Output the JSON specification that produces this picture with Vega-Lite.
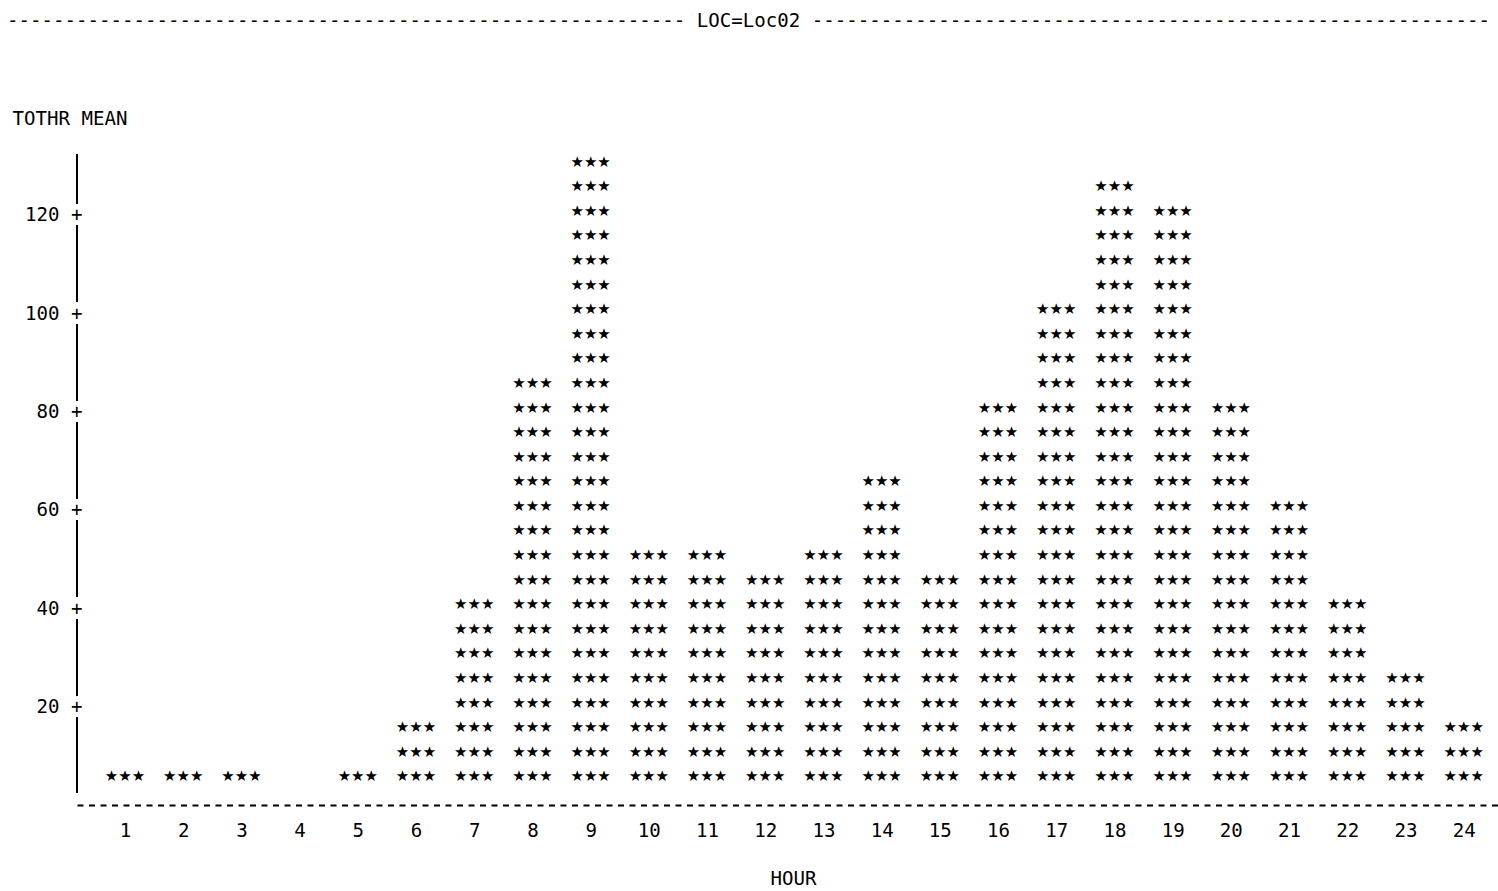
{
  "$schema": "https://vega.github.io/schema/vega-lite/v6.json",
  "width": 1421,
  "height": 664,
  "autosize": {"type": "none"},
  "padding": {"left": 77, "top": 141, "right": 0, "bottom": 86},
  "background": "white",
  "config": {"view": {"stroke": null}, "font": "DejaVu Sans Mono"},
  "title": {
    "text": "----------------------------------------------------------- LOC=Loc02 -----------------------------------------------------------",
    "font": "DejaVu Sans Mono",
    "fontSize": 19.1,
    "fontWeight": "normal",
    "color": "black",
    "anchor": "middle",
    "frame": "group",
    "dx": -39,
    "offset": 78
  },
  "data": {"values": [
    {"HOUR":1,"TOTHR":5},
    {"HOUR":2,"TOTHR":5},
    {"HOUR":3,"TOTHR":5},
    {"HOUR":5,"TOTHR":5},
    {"HOUR":6,"TOTHR":5},{"HOUR":6,"TOTHR":10},{"HOUR":6,"TOTHR":15},
    {"HOUR":7,"TOTHR":5},{"HOUR":7,"TOTHR":10},{"HOUR":7,"TOTHR":15},{"HOUR":7,"TOTHR":20},{"HOUR":7,"TOTHR":25},{"HOUR":7,"TOTHR":30},{"HOUR":7,"TOTHR":35},{"HOUR":7,"TOTHR":40},
    {"HOUR":8,"TOTHR":5},{"HOUR":8,"TOTHR":10},{"HOUR":8,"TOTHR":15},{"HOUR":8,"TOTHR":20},{"HOUR":8,"TOTHR":25},{"HOUR":8,"TOTHR":30},{"HOUR":8,"TOTHR":35},{"HOUR":8,"TOTHR":40},{"HOUR":8,"TOTHR":45},{"HOUR":8,"TOTHR":50},{"HOUR":8,"TOTHR":55},{"HOUR":8,"TOTHR":60},{"HOUR":8,"TOTHR":65},{"HOUR":8,"TOTHR":70},{"HOUR":8,"TOTHR":75},{"HOUR":8,"TOTHR":80},{"HOUR":8,"TOTHR":85},
    {"HOUR":9,"TOTHR":5},{"HOUR":9,"TOTHR":10},{"HOUR":9,"TOTHR":15},{"HOUR":9,"TOTHR":20},{"HOUR":9,"TOTHR":25},{"HOUR":9,"TOTHR":30},{"HOUR":9,"TOTHR":35},{"HOUR":9,"TOTHR":40},{"HOUR":9,"TOTHR":45},{"HOUR":9,"TOTHR":50},{"HOUR":9,"TOTHR":55},{"HOUR":9,"TOTHR":60},{"HOUR":9,"TOTHR":65},{"HOUR":9,"TOTHR":70},{"HOUR":9,"TOTHR":75},{"HOUR":9,"TOTHR":80},{"HOUR":9,"TOTHR":85},{"HOUR":9,"TOTHR":90},{"HOUR":9,"TOTHR":95},{"HOUR":9,"TOTHR":100},{"HOUR":9,"TOTHR":105},{"HOUR":9,"TOTHR":110},{"HOUR":9,"TOTHR":115},{"HOUR":9,"TOTHR":120},{"HOUR":9,"TOTHR":125},{"HOUR":9,"TOTHR":130},
    {"HOUR":10,"TOTHR":5},{"HOUR":10,"TOTHR":10},{"HOUR":10,"TOTHR":15},{"HOUR":10,"TOTHR":20},{"HOUR":10,"TOTHR":25},{"HOUR":10,"TOTHR":30},{"HOUR":10,"TOTHR":35},{"HOUR":10,"TOTHR":40},{"HOUR":10,"TOTHR":45},{"HOUR":10,"TOTHR":50},
    {"HOUR":11,"TOTHR":5},{"HOUR":11,"TOTHR":10},{"HOUR":11,"TOTHR":15},{"HOUR":11,"TOTHR":20},{"HOUR":11,"TOTHR":25},{"HOUR":11,"TOTHR":30},{"HOUR":11,"TOTHR":35},{"HOUR":11,"TOTHR":40},{"HOUR":11,"TOTHR":45},{"HOUR":11,"TOTHR":50},
    {"HOUR":12,"TOTHR":5},{"HOUR":12,"TOTHR":10},{"HOUR":12,"TOTHR":15},{"HOUR":12,"TOTHR":20},{"HOUR":12,"TOTHR":25},{"HOUR":12,"TOTHR":30},{"HOUR":12,"TOTHR":35},{"HOUR":12,"TOTHR":40},{"HOUR":12,"TOTHR":45},
    {"HOUR":13,"TOTHR":5},{"HOUR":13,"TOTHR":10},{"HOUR":13,"TOTHR":15},{"HOUR":13,"TOTHR":20},{"HOUR":13,"TOTHR":25},{"HOUR":13,"TOTHR":30},{"HOUR":13,"TOTHR":35},{"HOUR":13,"TOTHR":40},{"HOUR":13,"TOTHR":45},{"HOUR":13,"TOTHR":50},
    {"HOUR":14,"TOTHR":5},{"HOUR":14,"TOTHR":10},{"HOUR":14,"TOTHR":15},{"HOUR":14,"TOTHR":20},{"HOUR":14,"TOTHR":25},{"HOUR":14,"TOTHR":30},{"HOUR":14,"TOTHR":35},{"HOUR":14,"TOTHR":40},{"HOUR":14,"TOTHR":45},{"HOUR":14,"TOTHR":50},{"HOUR":14,"TOTHR":55},{"HOUR":14,"TOTHR":60},{"HOUR":14,"TOTHR":65},
    {"HOUR":15,"TOTHR":5},{"HOUR":15,"TOTHR":10},{"HOUR":15,"TOTHR":15},{"HOUR":15,"TOTHR":20},{"HOUR":15,"TOTHR":25},{"HOUR":15,"TOTHR":30},{"HOUR":15,"TOTHR":35},{"HOUR":15,"TOTHR":40},{"HOUR":15,"TOTHR":45},
    {"HOUR":16,"TOTHR":5},{"HOUR":16,"TOTHR":10},{"HOUR":16,"TOTHR":15},{"HOUR":16,"TOTHR":20},{"HOUR":16,"TOTHR":25},{"HOUR":16,"TOTHR":30},{"HOUR":16,"TOTHR":35},{"HOUR":16,"TOTHR":40},{"HOUR":16,"TOTHR":45},{"HOUR":16,"TOTHR":50},{"HOUR":16,"TOTHR":55},{"HOUR":16,"TOTHR":60},{"HOUR":16,"TOTHR":65},{"HOUR":16,"TOTHR":70},{"HOUR":16,"TOTHR":75},{"HOUR":16,"TOTHR":80},
    {"HOUR":17,"TOTHR":5},{"HOUR":17,"TOTHR":10},{"HOUR":17,"TOTHR":15},{"HOUR":17,"TOTHR":20},{"HOUR":17,"TOTHR":25},{"HOUR":17,"TOTHR":30},{"HOUR":17,"TOTHR":35},{"HOUR":17,"TOTHR":40},{"HOUR":17,"TOTHR":45},{"HOUR":17,"TOTHR":50},{"HOUR":17,"TOTHR":55},{"HOUR":17,"TOTHR":60},{"HOUR":17,"TOTHR":65},{"HOUR":17,"TOTHR":70},{"HOUR":17,"TOTHR":75},{"HOUR":17,"TOTHR":80},{"HOUR":17,"TOTHR":85},{"HOUR":17,"TOTHR":90},{"HOUR":17,"TOTHR":95},{"HOUR":17,"TOTHR":100},
    {"HOUR":18,"TOTHR":5},{"HOUR":18,"TOTHR":10},{"HOUR":18,"TOTHR":15},{"HOUR":18,"TOTHR":20},{"HOUR":18,"TOTHR":25},{"HOUR":18,"TOTHR":30},{"HOUR":18,"TOTHR":35},{"HOUR":18,"TOTHR":40},{"HOUR":18,"TOTHR":45},{"HOUR":18,"TOTHR":50},{"HOUR":18,"TOTHR":55},{"HOUR":18,"TOTHR":60},{"HOUR":18,"TOTHR":65},{"HOUR":18,"TOTHR":70},{"HOUR":18,"TOTHR":75},{"HOUR":18,"TOTHR":80},{"HOUR":18,"TOTHR":85},{"HOUR":18,"TOTHR":90},{"HOUR":18,"TOTHR":95},{"HOUR":18,"TOTHR":100},{"HOUR":18,"TOTHR":105},{"HOUR":18,"TOTHR":110},{"HOUR":18,"TOTHR":115},{"HOUR":18,"TOTHR":120},{"HOUR":18,"TOTHR":125},
    {"HOUR":19,"TOTHR":5},{"HOUR":19,"TOTHR":10},{"HOUR":19,"TOTHR":15},{"HOUR":19,"TOTHR":20},{"HOUR":19,"TOTHR":25},{"HOUR":19,"TOTHR":30},{"HOUR":19,"TOTHR":35},{"HOUR":19,"TOTHR":40},{"HOUR":19,"TOTHR":45},{"HOUR":19,"TOTHR":50},{"HOUR":19,"TOTHR":55},{"HOUR":19,"TOTHR":60},{"HOUR":19,"TOTHR":65},{"HOUR":19,"TOTHR":70},{"HOUR":19,"TOTHR":75},{"HOUR":19,"TOTHR":80},{"HOUR":19,"TOTHR":85},{"HOUR":19,"TOTHR":90},{"HOUR":19,"TOTHR":95},{"HOUR":19,"TOTHR":100},{"HOUR":19,"TOTHR":105},{"HOUR":19,"TOTHR":110},{"HOUR":19,"TOTHR":115},{"HOUR":19,"TOTHR":120},
    {"HOUR":20,"TOTHR":5},{"HOUR":20,"TOTHR":10},{"HOUR":20,"TOTHR":15},{"HOUR":20,"TOTHR":20},{"HOUR":20,"TOTHR":25},{"HOUR":20,"TOTHR":30},{"HOUR":20,"TOTHR":35},{"HOUR":20,"TOTHR":40},{"HOUR":20,"TOTHR":45},{"HOUR":20,"TOTHR":50},{"HOUR":20,"TOTHR":55},{"HOUR":20,"TOTHR":60},{"HOUR":20,"TOTHR":65},{"HOUR":20,"TOTHR":70},{"HOUR":20,"TOTHR":75},{"HOUR":20,"TOTHR":80},
    {"HOUR":21,"TOTHR":5},{"HOUR":21,"TOTHR":10},{"HOUR":21,"TOTHR":15},{"HOUR":21,"TOTHR":20},{"HOUR":21,"TOTHR":25},{"HOUR":21,"TOTHR":30},{"HOUR":21,"TOTHR":35},{"HOUR":21,"TOTHR":40},{"HOUR":21,"TOTHR":45},{"HOUR":21,"TOTHR":50},{"HOUR":21,"TOTHR":55},{"HOUR":21,"TOTHR":60},
    {"HOUR":22,"TOTHR":5},{"HOUR":22,"TOTHR":10},{"HOUR":22,"TOTHR":15},{"HOUR":22,"TOTHR":20},{"HOUR":22,"TOTHR":25},{"HOUR":22,"TOTHR":30},{"HOUR":22,"TOTHR":35},{"HOUR":22,"TOTHR":40},
    {"HOUR":23,"TOTHR":5},{"HOUR":23,"TOTHR":10},{"HOUR":23,"TOTHR":15},{"HOUR":23,"TOTHR":20},{"HOUR":23,"TOTHR":25},
    {"HOUR":24,"TOTHR":5},{"HOUR":24,"TOTHR":10},{"HOUR":24,"TOTHR":15}
  ]},
  "layer": [
    {
      "mark": {"type": "text", "text": "★★★", "font": "DejaVu Sans", "fontSize": 15, "baseline": "middle", "align": "center", "dy": -4, "color": "black"},
      "encoding": {
        "x": {
          "field": "HOUR", "type": "quantitative",
          "scale": {"domain": [0.175, 24.59], "nice": false, "zero": false},
          "axis": {
            "values": [1,2,3,4,5,6,7,8,9,10,11,12,13,14,15,16,17,18,19,20,21,22,23,24],
            "format": "d",
            "grid": false, "ticks": false,
            "domain": true, "domainColor": "black", "domainWidth": 2, "domainDash": [6, 5.5],
            "labelFont": "DejaVu Sans Mono", "labelFontSize": 19.1, "labelColor": "black",
            "labelPadding": 16, "labelFlush": false, "labelOverlap": false,
            "title": "HOUR", "titleFont": "DejaVu Sans Mono", "titleFontSize": 19.1, "titleFontWeight": "normal", "titleColor": "black",
            "titleX": 716, "titleY": 73, "titleAlign": "center", "titleAnchor": null, "titleBaseline": "middle"
          }
        },
        "y": {
          "field": "TOTHR", "type": "quantitative",
          "scale": {"domain": [0, 135], "nice": false},
          "axis": {
            "values": [20, 40, 60, 80, 100, 120],
            "labelExpr": "datum.label + ' +'",
            "grid": false, "ticks": false, "domain": false,
            "labelFont": "DejaVu Sans Mono", "labelFontSize": 19.1, "labelColor": "black",
            "labelPadding": -5, "labelAlign": "right", "labelBaseline": "middle",
            "title": "TOTHR MEAN", "titleFont": "DejaVu Sans Mono", "titleFontSize": 19.1, "titleFontWeight": "normal", "titleColor": "black",
            "titleAngle": 0, "titleX": -65, "titleY": -23, "titleAlign": "left", "titleBaseline": "middle", "titleAnchor": null
          }
        }
      }
    },
    {
      "mark": {"type": "rule", "color": "black", "strokeWidth": 2, "strokeDash": [76.3, 22], "strokeDashOffset": 27.3},
      "encoding": {
        "x": {"datum": 0.175, "type": "quantitative"},
        "y": {"datum": 132.2, "type": "quantitative"},
        "y2": {"datum": 2.6}
      }
    }
  ]
}
